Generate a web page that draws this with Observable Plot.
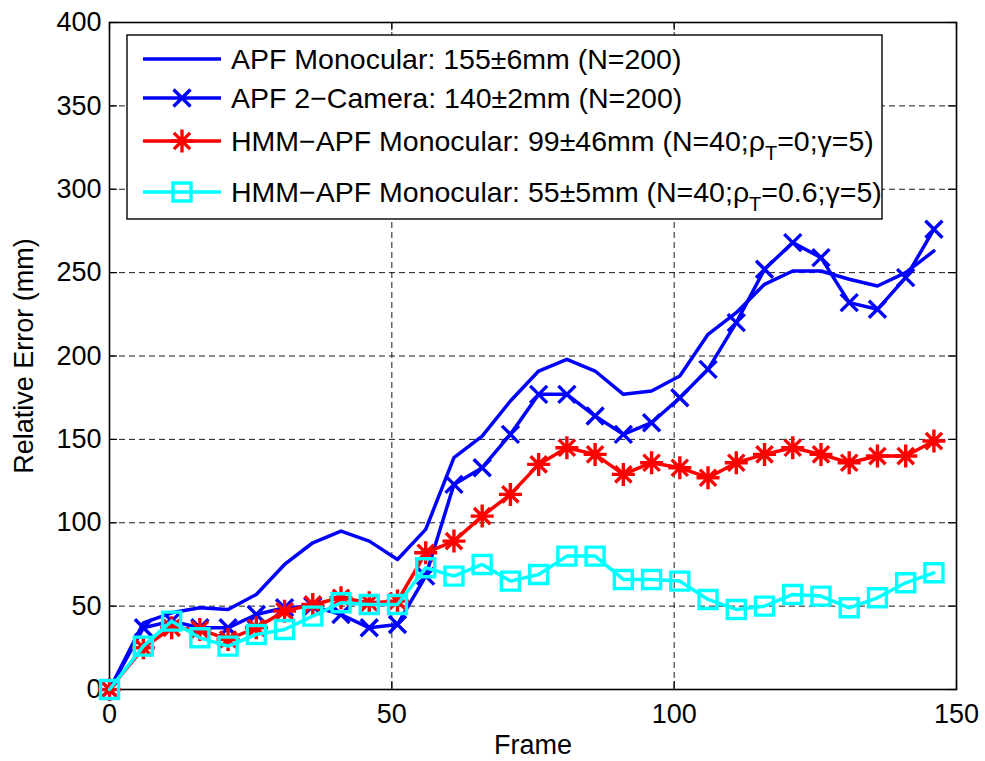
<!DOCTYPE html>
<html><head><meta charset="utf-8">
<script src="https://cdn.jsdelivr.net/npm/d3@7"></script>
<script src="https://cdn.jsdelivr.net/npm/@observablehq/plot@0.6"></script>
<style>
body{margin:0;background:#fff;}
#chart{position:relative;width:985px;height:761px;}
svg{font-family:"Liberation Sans",Arial,Helvetica,sans-serif;}
</style>
</head><body><div id="chart"></div>
<script>
const frames = [0,6,11,16,21,26,31,36,41,46,51,56,61,66,71,76,81,86,91,96,101,106,111,116,121,126,131,136,141,146];
const apfMono = [0,40,46,49,48,57,75,88,95,89,78,96,139,152,173,191,198,191,177,179,188,213,226,243,251,251,246,242,250,263];
const apf2Cam = [0,37,41,37,37,45,49,50,45,37,39,68,123,133,153,177,177,164,153,160,175,192,220,252,268,259,232,228,247,276];
const hmmRho0 = [0,25,37,36,30,37,47,51,55,52,53,82,89,104,117,135,145,141,129,136,133,127,136,141,145,141,136,140,140,149];
const hmmRho06 = [0,26,41,31,26,33,36,44,52,51,51,73,68,75,65,69,80,80,66,66,65,54,48,50,57,56,49,55,64,70];
const xTicks = [0,50,100,150];
const yTicks = [0,50,100,150,200,250,300,350,400];
const legendLabels = [
  ["APF Monocular: 155±6mm (N=200)"],
  ["APF 2−Camera: 140±2mm (N=200)"],
  ["HMM−APF Monocular: 99±46mm (N=40;ρ", "T", "=0;γ=5)"],
  ["HMM−APF Monocular: 55±5mm (N=40;ρ", "T", "=0.6;γ=5)"]
];
const colors = ["#0000ff","#0000ff","#ff0000","#00ffff"];

const rows = (vals) => frames.map((f,i)=>({frame:f, err:vals[i]}));

const crossSym = {draw(ctx,size){const r=Math.sqrt(size/Math.PI);ctx.moveTo(-r,-r);ctx.lineTo(r,r);ctx.moveTo(r,-r);ctx.lineTo(-r,r);}};
const starSym = {draw(ctx,size){const r=Math.sqrt(size/Math.PI);const d=r*Math.SQRT1_2;ctx.moveTo(0,-r);ctx.lineTo(0,r);ctx.moveTo(-r,0);ctx.lineTo(r,0);ctx.moveTo(-d,-d);ctx.lineTo(d,d);ctx.moveTo(d,-d);ctx.lineTo(-d,d);}};
const squareSym = {draw(ctx,size){const r=Math.sqrt(size/Math.PI);ctx.rect(-r,-r,2*r,2*r);}};
const symbols = [null, crossSym, starSym, squareSym];
const radii = [0, 8.5, 11.5, 9];
const seriesVals = [apfMono, apf2Cam, hmmRho0, hmmRho06];

const W = 985, H = 761, mL = 109, mR = 29, mT = 22, mB = 72;
const FONT = 27;

const marks = [
  Plot.gridX(xTicks, {stroke:"#000", strokeOpacity:0.9, strokeDasharray:"6,4", strokeWidth:1}),
  Plot.gridY(yTicks, {stroke:"#000", strokeOpacity:0.9, strokeDasharray:"6,4", strokeWidth:1}),
  Plot.tickX(xTicks, {x:d=>d, insetTop:(H-mT-mB)-8, stroke:"#000", strokeWidth:1.2}),
  Plot.tickX(xTicks, {x:d=>d, insetBottom:(H-mT-mB)-8, stroke:"#000", strokeWidth:1.2}),
  Plot.tickY(yTicks, {y:d=>d, insetRight:(W-mL-mR)-8, stroke:"#000", strokeWidth:1.2}),
  Plot.tickY(yTicks, {y:d=>d, insetLeft:(W-mL-mR)-8, stroke:"#000", strokeWidth:1.2}),
  Plot.frame({stroke:"#000", strokeWidth:1.6}),
  Plot.axisX(xTicks, {anchor:"bottom", tickSize:0, tickPadding:14, fontSize:FONT, label:null, fill:"#000"}),
  Plot.axisY(yTicks, {anchor:"left", tickSize:0, tickPadding:8, fontSize:FONT, label:null, fill:"#000"}),
  Plot.text(["Frame"], {text:d=>d, frameAnchor:"bottom", dy:56, fontSize:FONT, fill:"#000", lineAnchor:"middle", textAnchor:"middle"}),
  Plot.text(["Relative Error (mm)"], {text:d=>d, frameAnchor:"left", dx:-85, rotate:-90, fontSize:FONT, fill:"#000", lineAnchor:"middle", textAnchor:"middle"})
];
seriesVals.forEach((vals,i)=>{
  marks.push(Plot.line(rows(vals), {x:"frame", y:"err", stroke:colors[i], strokeWidth:3.5, strokeLinejoin:"round"}));
  if (symbols[i]) marks.push(Plot.dot(rows(vals), {x:"frame", y:"err", symbol:symbols[i], r:radii[i], stroke:colors[i], strokeWidth:3.4, fill:"none"}));
});

const plot = Plot.plot({
  width:W, height:H, marginLeft:mL, marginRight:mR, marginTop:mT, marginBottom:mB,
  x:{domain:[0,150], axis:null},
  y:{domain:[0,400], axis:null},
  style:{fontFamily:'"Liberation Sans",Arial,Helvetica,sans-serif', fontSize:FONT+"px", background:"#fff", overflow:"visible"},
  marks
});
document.getElementById("chart").appendChild(plot);

// legend inside the axes
const svg = d3.select(plot);
const lg = svg.append("g").attr("text-anchor","start");
lg.append("rect").attr("x",127).attr("y",35).attr("width",755).attr("height",184)
  .attr("fill","#fff").attr("stroke","#000").attr("stroke-width",1.4);
const rowY = [59, 98, 141, 192];
legendLabels.forEach((parts,i)=>{
  const y = rowY[i];
  lg.append("line").attr("x1",143).attr("x2",221).attr("y1",y).attr("y2",y)
    .attr("stroke",colors[i]).attr("stroke-width",3.5);
  if (symbols[i]) lg.append("path").attr("transform",`translate(182,${y})`)
    .attr("d", d3.symbol().type(symbols[i]).size(Math.PI*radii[i]*radii[i])())
    .attr("stroke",colors[i]).attr("stroke-width",3.4).attr("fill","none");
  const t = lg.append("text").attr("x",231).attr("y",y).attr("dy","0.36em")
    .attr("text-anchor","start").attr("font-size",28.5).attr("fill","#000");
  t.append("tspan").text(parts[0]);
  if (parts.length>1){
    t.append("tspan").attr("font-size",20).attr("dy",9).text(parts[1]);
    t.append("tspan").attr("dy",-9).text(parts[2]);
  }
});
</script>
</body></html>
